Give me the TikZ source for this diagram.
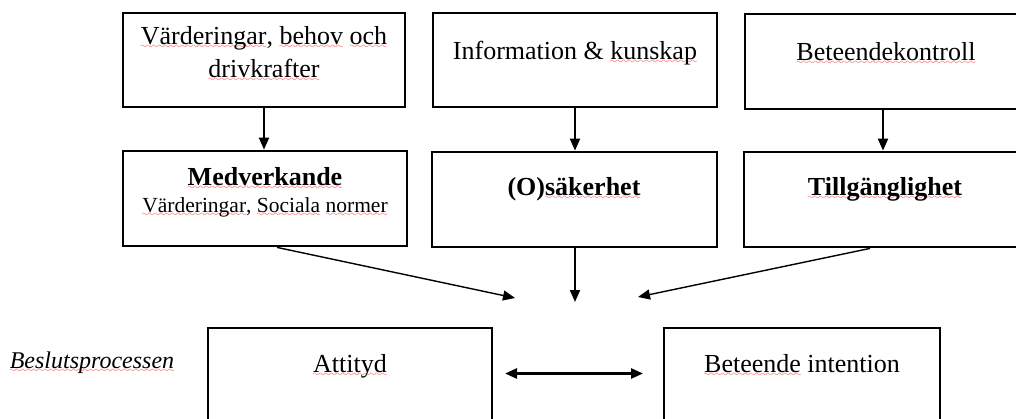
\documentclass[tikz,border=0pt]{standalone}
\usepackage{fontspec}
\setmainfont{Liberation Serif}
\usetikzlibrary{arrows.meta}
\font\mywavefont=lasy10 at 8.5pt
\newbox\sqbox
\newcommand\sqw[1]{\leavevmode\setbox\sqbox=\hbox{#1}\rlap{\color{red}\lower4.5pt\hbox to\wd\sqbox{\xleaders\hbox{\mywavefont\char58}\hfil}}\box\sqbox\relax}
\tikzset{
  box/.style={draw, line width=2.8pt, inner sep=0pt},
  txt/.style={anchor=base, inner sep=0pt, font=\fontsize{26}{30}\selectfont},
  btxt/.style={txt, font=\fontsize{26}{30}\selectfont\bfseries},
  stxt/.style={txt, font=\fontsize{21.5}{26}\selectfont},
  itxt/.style={txt, font=\fontsize{24}{28}\selectfont\itshape},
  tip/.tip={Triangle[length=12pt,width=10pt]},
  arr/.style={-tip, line width=2pt},
  darr/.style={-tip, line width=1.4pt},
  barr/.style={tip-tip, line width=2.6pt}
}
\begin{document}
\begin{tikzpicture}[x=1pt,y=-1pt]
\useasboundingbox[fill=white] (0,0) rectangle (1016,418);
% top row
\node[box, minimum width=282pt, minimum height=94pt] (b1) at (264,60) {};
\node[box, minimum width=284pt, minimum height=94pt] (b2) at (575,60) {};
\node[box, minimum width=276pt, minimum height=95pt] (b3) at (883,61.5) {};
% middle row
\node[box, minimum width=284pt, minimum height=95pt] (m1) at (265,198.5) {};
\node[box, minimum width=285pt, minimum height=95pt] (m2) at (574.5,199.5) {};
\node[box, minimum width=278pt, minimum height=95pt] (m3) at (883,199.5) {};
% bottom row
\node[box, minimum width=284pt, minimum height=112pt] (a1) at (350,384) {};
\node[box, minimum width=276pt, minimum height=112pt] (a2) at (802,384) {};
% texts
\node[txt] (t1a) at (264,44) {\sqw{Värderingar}, \sqw{behov} \sqw{och}};
\node[txt] (t1b) at (264,77) {\sqw{drivkrafter}};
\node[txt] (t2) at (575,59) {Information \& \sqw{kunskap}};
\node[txt] (t3) at (886,60) {\sqw{Beteendekontroll}};
\node[btxt] (t4a) at (265,185) {\sqw{Medverkande}};
\node[stxt] (t4b) at (265,212) {\sqw{Värderingar}, \sqw{Sociala} \sqw{normer}};
\node[btxt] (t5) at (574,195) {(O)\sqw{säkerhet}};
\node[btxt] (t6) at (885,195) {\sqw{Tillgänglighet}};
\node[txt] (t7) at (350,372) {\sqw{Attityd}};
\node[txt] (t8) at (802,372) {\sqw{Beteende} intention};
\node[itxt] (t9) at (92,368) {\sqw{Beslutsprocessen}};
% converging points
\coordinate (c1) at (515,298);
\coordinate (c2) at (575,302);
\coordinate (c3) at (638,297);
\coordinate (d1) at (505,373.5);
\coordinate (d2) at (643,373.5);
% arrows
\draw[arr] (b1.south) -- (b1.south |- m1.north);
\draw[arr] (b2.south) -- (b2.south |- m2.north);
\draw[arr] (b3.south) -- (b3.south |- m3.north);
\draw[darr] ([xshift=12pt]m1.south) -- (c1);
\draw[arr] (m2.south -| c2) -- (c2);
\draw[darr] ([xshift=-13pt]m3.south) -- (c3);
\draw[barr] (d1) -- (d2);
\end{tikzpicture}
\end{document}
